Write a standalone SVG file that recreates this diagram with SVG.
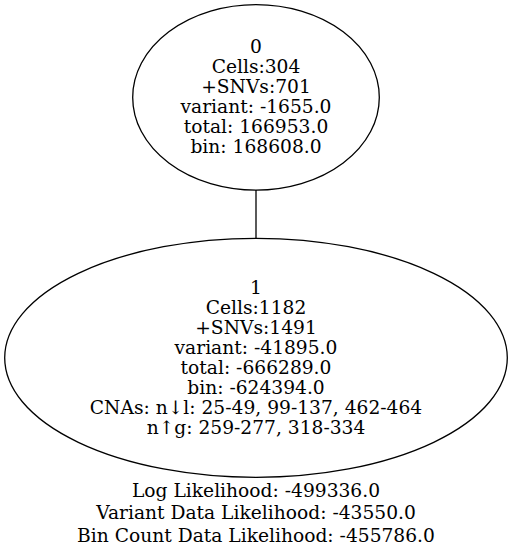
<svg xmlns="http://www.w3.org/2000/svg" width="512" height="550" viewBox="0 0 512 550">
  <style>
    .node ellipse { fill: none; stroke: #000; stroke-width: 1.3; }
    .edge { stroke: #000; stroke-width: 1.3; fill: none; }
    text { font-family: "DejaVu Serif", "Liberation Serif", serif; font-size: 18.67px; fill: #000; text-anchor: middle; }
  </style>
  <rect width="512" height="550" fill="#fff"/>

  <g id="edges">
    <path class="edge" d="M256,190 L256,238"/>
  </g>

  <g id="node0" class="node">
    <ellipse cx="256" cy="97.4" rx="123.3" ry="92.7"/>
    <text x="256" y="52.7">0</text>
    <text x="256" y="73">Cells:304</text>
    <text x="256" y="93">+SNVs:701</text>
    <text x="256" y="113">variant: -1655.0</text>
    <text x="256" y="133">total: 166953.0</text>
    <text x="256" y="153">bin: 168608.0</text>
  </g>

  <g id="node1" class="node">
    <ellipse cx="256" cy="357.8" rx="251.3" ry="119.5"/>
    <text x="256" y="294">1</text>
    <text x="256" y="314">Cells:1182</text>
    <text x="256" y="334">+SNVs:1491</text>
    <text x="256" y="353.5">variant: -41895.0</text>
    <text x="256" y="373.5">total: -666289.0</text>
    <text x="256" y="393.5">bin: -624394.0</text>
    <text x="256" y="414">CNAs: n↓l: 25-49, 99-137, 462-464</text>
    <text x="256" y="434">n↑g: 259-277, 318-334</text>
  </g>

  <g id="summary">
    <text x="256" y="497.3">Log Likelihood: -499336.0</text>
    <text x="256" y="519.3">Variant Data Likelihood: -43550.0</text>
    <text x="256" y="541.7">Bin Count Data Likelihood: -455786.0</text>
  </g>
</svg>
